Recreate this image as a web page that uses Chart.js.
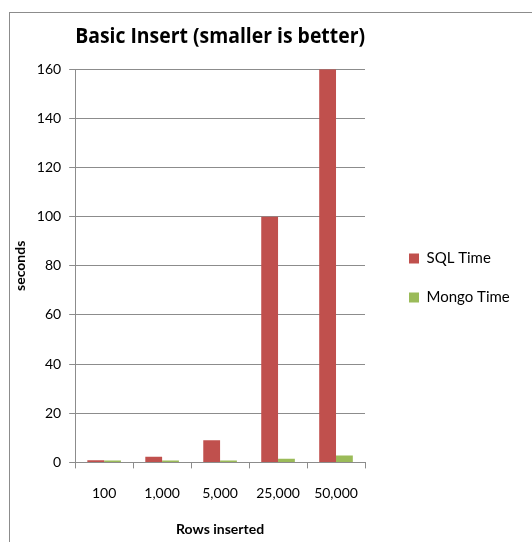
<!DOCTYPE html>
<html>
<head>
<meta charset="utf-8">
<script src="https://cdn.jsdelivr.net/npm/chart.js@4"></script>
<style>
  html, body { margin: 0; padding: 0; background: #fff; }
  #wrap { position: relative; width: 532px; height: 542px; overflow: hidden; }
  #frame { position: absolute; left: 9px; top: 12px; width: 600px; height: 600px;
           border: 1px solid #8c8c8c; box-sizing: border-box; }
  #c { position: absolute; left: 0; top: 0; }
</style>
</head>
<body>
<div id="wrap">
  <div id="frame"></div>
  <canvas id="c" width="532" height="542"></canvas>
</div>
<script>
const categories = ["100", "1,000", "5,000", "25,000", "50,000"];
const sqlTime = [0.9, 2.3, 9, 100, 160];
const mongoTime = [0.8, 0.8, 0.8, 1.5, 2.8];
const yTicks = [0, 20, 40, 60, 80, 100, 120, 140, 160];

const FONT = "Lato, 'Open Sans', sans-serif";
const LEGEND_SHIFT = 20;

// title centred over the plot, legend pushed a bit right/up like the original
const tweakLayout = {
  id: "tweakLayout",
  afterLayout(chart) {
    chart.titleBlock.left = chart.chartArea.left;
    chart.titleBlock.right = chart.chartArea.right;
    chart.legend.left += LEGEND_SHIFT;
    chart.legend.right = chart.width;
    chart.legend.top -= 5;
    chart.legend.bottom -= 5;
  }
};

new Chart(document.getElementById("c"), {
  type: "bar",
  data: {
    labels: categories,
    datasets: [
      { label: "SQL Time", data: sqlTime, backgroundColor: "#c0504d",
        categoryPercentage: 0.58, barPercentage: 1 },
      { label: "Mongo Time", data: mongoTime, backgroundColor: "#9bbb59",
        categoryPercentage: 0.58, barPercentage: 1 }
    ]
  },
  options: {
    responsive: false,
    animation: false,
    layout: { padding: { left: 8, top: 24, right: 48, bottom: 0 } },
    plugins: {
      title: {
        display: true,
        text: "Basic Insert (smaller is better)",
        color: "#000",
        font: { family: "'Open Sans', sans-serif", size: 21, weight: "bold" },
        padding: { top: 0, bottom: 20 }
      },
      legend: {
        position: "right",
        labels: {
          color: "#000",
          font: { family: FONT, size: 15 },
          boxWidth: 10,
          boxHeight: 10,
          padding: 24
        }
      },
      tooltip: { enabled: false }
    },
    scales: {
      x: {
        grid: { display: true, drawOnChartArea: false, color: "#8c8c8c", tickLength: 6, offset: true },
        border: { color: "#8c8c8c", width: 1 },
        ticks: { color: "#000", font: { family: FONT, size: 14 }, padding: 17, maxRotation: 0 },
        title: { display: true, text: "Rows inserted", color: "#000",
                 font: { family: FONT, size: 14, weight: "bold" }, padding: { top: 2 } }
      },
      y: {
        min: 0, max: 160,
        afterBuildTicks: axis => { axis.ticks = yTicks.map(v => ({ value: v })); },
        grid: { color: "#8c8c8c", tickLength: 6 },
        border: { color: "#8c8c8c", width: 1 },
        ticks: { color: "#000", font: { family: FONT, size: 14 }, padding: 8 },
        title: { display: true, text: "seconds", color: "#000",
                 font: { family: FONT, size: 14, weight: "bold" }, padding: { bottom: 0 } }
      }
    }
  },
  plugins: [tweakLayout]
});
</script>
</body>
</html>
